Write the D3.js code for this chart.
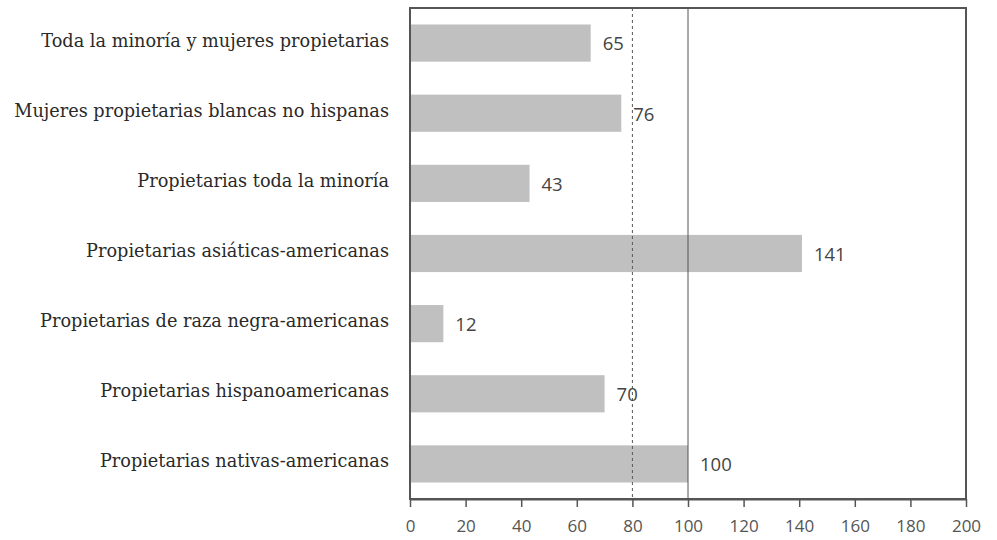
<!DOCTYPE html>
<html>
<head>
<meta charset="utf-8">
<script src="https://cdn.jsdelivr.net/npm/d3@7"></script>
<style>
  body { margin: 0; background: #fff; }
</style>
</head>
<body>
<script>
const categories = [
    "Toda la minoría y mujeres propietarias",
    "Mujeres propietarias blancas no hispanas",
    "Propietarias toda la minoría",
    "Propietarias asiáticas-americanas",
    "Propietarias de raza negra-americanas",
    "Propietarias hispanoamericanas",
    "Propietarias nativas-americanas"
];
const values = [65, 76, 43, 141, 12, 70, 100];
const xTicks = [0, 20, 40, 60, 80, 100, 120, 140, 160, 180, 200];
const refSolid = 100;
const refDashed = 80;

const width = 997, height = 540;
const margin = { top: 8, right: 31, bottom: 41, left: 410 };

const svg = d3.select("body").append("svg")
    .attr("width", width)
    .attr("height", height);

const x = d3.scaleLinear()
    .domain([0, 200])
    .range([margin.left, width - margin.right]);

const y = d3.scaleBand()
    .domain(categories)
    .range([margin.top, height - margin.bottom])
    .paddingInner(0.47)
    .paddingOuter(0.235);

// bars
svg.append("g")
    .selectAll("rect")
    .data(values)
    .join("rect")
    .attr("x", x(0))
    .attr("y", (d, i) => y(categories[i]))
    .attr("width", d => x(d) - x(0))
    .attr("height", y.bandwidth())
    .attr("fill", "#c0c0c0");

// reference lines
svg.append("line")
    .attr("x1", x(refDashed)).attr("x2", x(refDashed))
    .attr("y1", margin.top).attr("y2", height - margin.bottom)
    .attr("stroke", "#555")
    .attr("stroke-width", 1)
    .attr("stroke-dasharray", "3,3");

svg.append("line")
    .attr("x1", x(refSolid)).attr("x2", x(refSolid))
    .attr("y1", margin.top).attr("y2", height - margin.bottom)
    .attr("stroke", "#555")
    .attr("stroke-width", 1);

// frame
svg.append("rect")
    .attr("x", margin.left)
    .attr("y", margin.top)
    .attr("width", width - margin.right - margin.left)
    .attr("height", height - margin.bottom - margin.top)
    .attr("fill", "none")
    .attr("stroke", "#555")
    .attr("stroke-width", 2);

// value labels
svg.append("g")
    .selectAll("text")
    .data(values)
    .join("text")
    .attr("x", d => x(d) + 12)
    .attr("y", (d, i) => y(categories[i]) + y.bandwidth() / 2)
    .attr("dy", "0.4em")
    .attr("font-family", "'Open Sans', 'DejaVu Sans', sans-serif")
    .attr("font-size", 18.5)
    .attr("fill", "#444")
    .text(d => d);

// category labels
svg.append("g")
    .selectAll("text")
    .data(categories)
    .join("text")
    .attr("x", 389)
    .attr("y", d => y(d) + y.bandwidth() / 2)
    .attr("dy", "0.2em")
    .attr("text-anchor", "end")
    .attr("font-family", "'DejaVu Serif', serif")
    .attr("font-size", 17.7)
    .attr("fill", "#2a2a2a")
    .text(d => d);

// x axis
const xAxis = d3.axisBottom(x)
    .tickValues(xTicks)
    .tickSize(8)
    .tickPadding(13)
    .tickSizeOuter(0);

const gx = svg.append("g")
    .attr("transform", `translate(0,${height - margin.bottom})`)
    .call(xAxis);

gx.select(".domain").attr("stroke", "#555").attr("stroke-width", 2);
gx.selectAll(".tick line").attr("stroke", "#555").attr("stroke-width", 1.5);
gx.selectAll(".tick text")
    .attr("font-family", "'Open Sans', 'DejaVu Sans', sans-serif")
    .attr("font-size", 17)
    .attr("fill", "#555");
</script>
</body>
</html>
